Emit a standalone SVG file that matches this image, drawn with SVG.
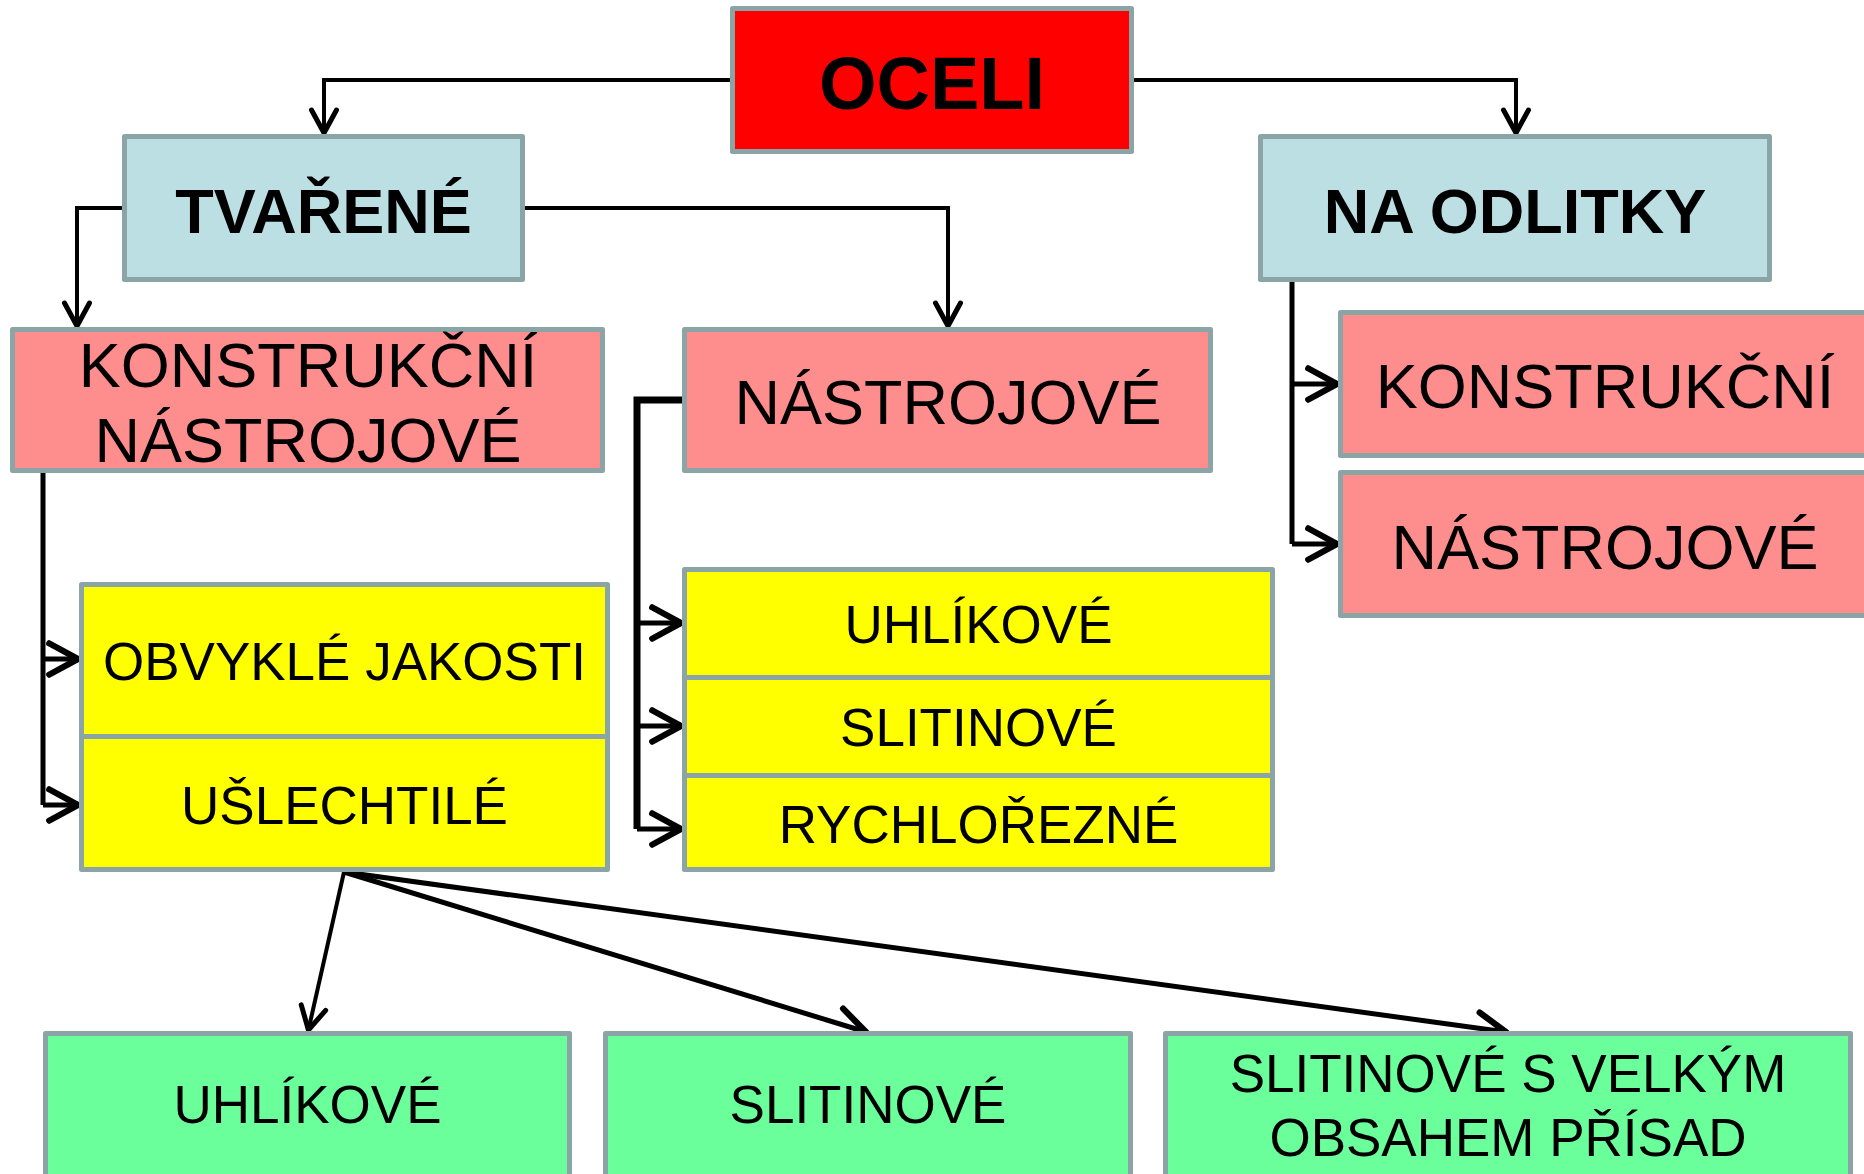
<svg xmlns="http://www.w3.org/2000/svg" width="1864" height="1174" viewBox="0 0 1864 1174">
<style>
.box{stroke:#8ba5a6;stroke-width:5;stroke-linejoin:round}
.red{fill:#ff0000}
.blue{fill:#bbdfe2}
.pink{fill:#fe8e8e}
.yellow{fill:#ffff00}
.green{fill:#6bff9b}
.t{font-family:"Liberation Sans",Arial,sans-serif;fill:#000;text-anchor:middle}
.b{font-weight:bold}
.lg{font-size:63px}
.md{font-size:53px}
.c{fill:none;stroke:#000;stroke-linejoin:miter}
</style>
<defs>
<marker id="ah" markerUnits="strokeWidth" markerWidth="10" markerHeight="10" viewBox="-1 -4 8 8" refX="4.6" refY="0" orient="auto" overflow="visible">
<path d="M0,-2.5 L4.6,0 L0,2.5" fill="none" stroke="#000" stroke-width="1" stroke-linecap="round" stroke-linejoin="round"/>
</marker>
</defs>
<rect width="1864" height="1174" fill="#fff"/>
<g id="connectors">
<path class="c" stroke-width="4" d="M730,80 H324 V133" marker-end="url(#ah)"/>
<path class="c" stroke-width="4" d="M1134,80 H1516 V133" marker-end="url(#ah)"/>
<path class="c" stroke-width="4" d="M122,208 H77 V326" marker-end="url(#ah)"/>
<path class="c" stroke-width="4" d="M525,208 H948 V326" marker-end="url(#ah)"/>
<path class="c" stroke-width="5" d="M1292,282 V544"/>
<path class="c" stroke-width="5" d="M1292,384 H1337" marker-end="url(#ah)"/>
<path class="c" stroke-width="5" d="M1292,544 H1337" marker-end="url(#ah)"/>
<path class="c" stroke-width="5" d="M43,473 V805"/>
<path class="c" stroke-width="5" d="M43,659 H78" marker-end="url(#ah)"/>
<path class="c" stroke-width="5" d="M43,805 H78" marker-end="url(#ah)"/>
<path class="c" stroke-width="7" d="M682,400 H637 V829"/>
<path class="c" stroke-width="5" d="M637,623 H681" marker-end="url(#ah)"/>
<path class="c" stroke-width="5" d="M637,726 H681" marker-end="url(#ah)"/>
<path class="c" stroke-width="5" d="M637,829 H681" marker-end="url(#ah)"/>
<path class="c" stroke-width="4" d="M344,872 L308.4,1030" marker-end="url(#ah)"/>
<path class="c" stroke-width="5" d="M344,872 L866,1032" marker-end="url(#ah)"/>
<path class="c" stroke-width="5" d="M344,872 L1506,1032" marker-end="url(#ah)"/>
</g>
<g id="oceli"><rect class="box red" x="732.5" y="8.5" width="399" height="143"/><text class="t b" x="932" y="109" font-size="74">OCELI</text></g>
<g id="tvarene"><rect class="box blue" x="124.5" y="136.5" width="398" height="143"/><text class="t b lg" x="323.5" y="233">TVAŘENÉ</text></g>
<g id="na-odlitky"><rect class="box blue" x="1260.5" y="136.5" width="509" height="143"/><text class="t b lg" x="1515" y="233">NA ODLITKY</text></g>
<g id="konstr-nastroj"><rect class="box pink" x="12.5" y="329.5" width="590" height="141"/><text class="t lg" x="308" y="387">KONSTRUKČNÍ</text><text class="t lg" x="308" y="462">NÁSTROJOVÉ</text></g>
<g id="nastrojove-mid"><rect class="box pink" x="684.5" y="329.5" width="526" height="141"/><text class="t lg" x="948" y="424">NÁSTROJOVÉ</text></g>
<g id="konstrukcni-right"><rect class="box pink" x="1340.5" y="312.5" width="530" height="143"/><text class="t lg" x="1605" y="408">KONSTRUKČNÍ</text></g>
<g id="nastrojove-right"><rect class="box pink" x="1340.5" y="472.5" width="530" height="143"/><text class="t lg" x="1605" y="569">NÁSTROJOVÉ</text></g>
<g id="obvykle"><rect class="box yellow" x="81.5" y="584.5" width="526" height="152"/><text class="t md" x="344.5" y="680">OBVYKLÉ JAKOSTI</text></g>
<g id="uslechtile"><rect class="box yellow" x="81.5" y="736.5" width="526" height="133"/><text class="t md" x="344.5" y="824">UŠLECHTILÉ</text></g>
<g id="uhlikove-mid"><rect class="box yellow" x="684.5" y="569.5" width="588" height="108"/><text class="t md" x="978.5" y="643">UHLÍKOVÉ</text></g>
<g id="slitinove-mid"><rect class="box yellow" x="684.5" y="677.5" width="588" height="98"/><text class="t md" x="978.5" y="746">SLITINOVÉ</text></g>
<g id="rychlorezne"><rect class="box yellow" x="684.5" y="775.5" width="588" height="94"/><text class="t md" x="978.5" y="843">RYCHLOŘEZNÉ</text></g>
<g id="uhlikove-low"><rect class="box green" x="45.5" y="1033.5" width="524" height="150"/><text class="t md" x="307.5" y="1123">UHLÍKOVÉ</text></g>
<g id="slitinove-low"><rect class="box green" x="605.5" y="1033.5" width="525" height="150"/><text class="t md" x="868" y="1123">SLITINOVÉ</text></g>
<g id="slitinove-velkym"><rect class="box green" x="1165.5" y="1033.5" width="685" height="150"/><text class="t md" x="1508" y="1092">SLITINOVÉ S VELKÝM</text><text class="t md" x="1508" y="1156">OBSAHEM PŘÍSAD</text></g>
</svg>
